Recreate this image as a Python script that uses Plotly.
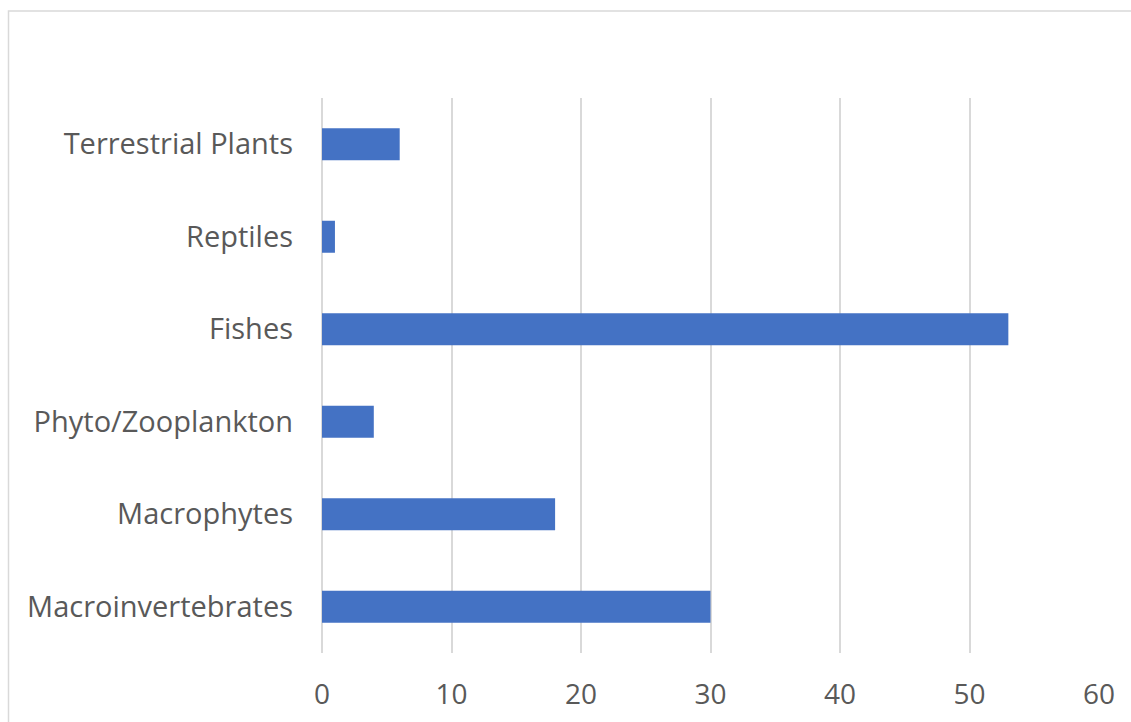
import plotly.graph_objects as go

categories = ["Macroinvertebrates", "Macrophytes", "Phyto/Zooplankton", "Fishes", "Reptiles", "Terrestrial Plants"]
values = [30, 18, 4, 53, 1, 6]
x_ticks = [0, 10, 20, 30, 40, 50, 60]

W, H = 1131, 722
L, R, T, B = 322, 32, 98, 69

fig = go.Figure(go.Bar(
    y=categories, x=values, orientation="h",
    marker=dict(color="#4472C4", line=dict(width=0)),
))

fig.update_layout(
    width=W, height=H,
    margin=dict(l=L, r=R, t=T, b=B, autoexpand=False),
    paper_bgcolor="white", plot_bgcolor="white",
    bargap=0.654,
    showlegend=False,
    font=dict(family="Open Sans", color="#595959", size=29),
)
fig.update_xaxes(
    range=[0, 60], tickvals=x_ticks, showgrid=True, gridcolor="#D9D9D9", gridwidth=1.5,
    zeroline=True, zerolinecolor="#D9D9D9", zerolinewidth=1.5,
    showline=False, ticks="", ticklabelstandoff=22,
    tickfont=dict(size=28, color="#595959"),
)
fig.update_yaxes(
    categoryorder="array", categoryarray=categories, showgrid=False, zeroline=False,
    showline=False, ticks="", ticklabelstandoff=28,
    tickfont=dict(size=29, color="#595959"),
)
# chart-area border (extends beyond the cropped frame on right and bottom)
pw, ph = W - L - R, H - T - B
def px_to_paper_x(p):
    return (p - L) / pw
def px_to_paper_y(p):
    return (H - B - p) / ph
fig.add_shape(type="rect", xref="paper", yref="paper",
              x0=px_to_paper_x(8.5), x1=px_to_paper_x(W + 20),
              y0=px_to_paper_y(H + 20), y1=px_to_paper_y(11),
              line=dict(color="#D9D9D9", width=1.5), fillcolor="rgba(0,0,0,0)", layer="below")

fig.write_html("out.html")
